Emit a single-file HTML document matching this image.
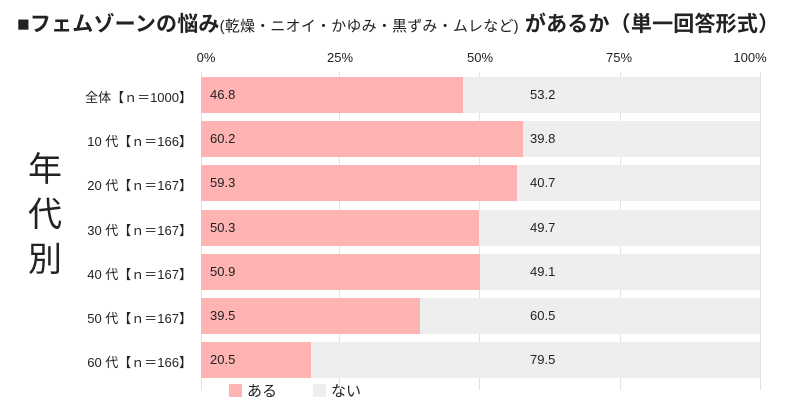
<!DOCTYPE html>
<html><head><meta charset="utf-8"><style>
body{margin:0;width:800px;height:407px;background:#fff;font-family:"Liberation Sans","Noto Sans CJK JP",sans-serif;color:#222;position:relative;overflow:hidden}
.a{position:absolute;white-space:nowrap}
.t{left:17px;top:8px;font-size:21px;font-weight:bold;letter-spacing:0.2px}
.t small{font-size:15px;font-weight:normal}
.tick{top:50px;font-size:13px;transform:translateX(-50%)}
.grid{top:72px;height:318px;width:1px;background:#e2e2e2}
.lab{right:608px;font-size:13px}
.pink{background:#ffb3b3;height:36px;left:201px}
.gray{background:#eeeeee;height:36px;left:201px;width:559px}
.v{font-size:13px}
</style></head><body>
<div class="a t">■フェムゾーンの悩み<small>(乾燥・ニオイ・かゆみ・黒ずみ・ムレなど)</small> があるか（単一回答形式）</div>
<div class="a tick" style="left:206px">0%</div>
<div class="a tick" style="left:340px">25%</div>
<div class="a tick" style="left:480px">50%</div>
<div class="a tick" style="left:619px">75%</div>
<div class="a tick" style="left:750px">100%</div>
<div class="a grid" style="left:339px"></div>
<div class="a grid" style="left:479px"></div>
<div class="a grid" style="left:620px"></div>
<div class="a grid" style="left:760px"></div>
<div class="a grid" style="left:201px"></div>
<div class="a" style="left:28px;top:148px;font-size:34px;line-height:45px;width:40px">年<br>代<br>別</div>
<div id="rows"></div>
<div class="a" style="left:229px;top:384px;width:13px;height:13px;background:#ffb3b3"></div>
<div class="a" style="left:247px;top:380px;font-size:15px">ある</div>
<div class="a" style="left:313px;top:384px;width:13px;height:13px;background:#eee"></div>
<div class="a" style="left:331px;top:380px;font-size:15px">ない</div>
<script>
var d=[["全体【ｎ＝1000】",46.8,463],["10 代【ｎ＝166】",60.2,523],["20 代【ｎ＝167】",59.3,517],["30 代【ｎ＝167】",50.3,479],["40 代【ｎ＝167】",50.9,480],["50 代【ｎ＝167】",39.5,420],["60 代【ｎ＝166】",20.5,311]];
var h="";d.forEach(function(r,i){var y=77+i*44.2;
h+='<div class="a gray" style="top:'+y+'px"></div><div class="a pink" style="top:'+y+'px;width:'+(r[2]-201)+'px"></div>';
h+='<div class="a lab" style="top:'+(y+10)+'px">'+r[0]+'</div>';
h+='<div class="a v" style="left:210px;top:'+(y+10)+'px">'+r[1].toFixed(1)+'</div>';
h+='<div class="a v" style="left:530px;top:'+(y+10)+'px">'+(100-r[1]).toFixed(1)+'</div>';});
document.getElementById("rows").innerHTML=h;
</script>
</body></html>
